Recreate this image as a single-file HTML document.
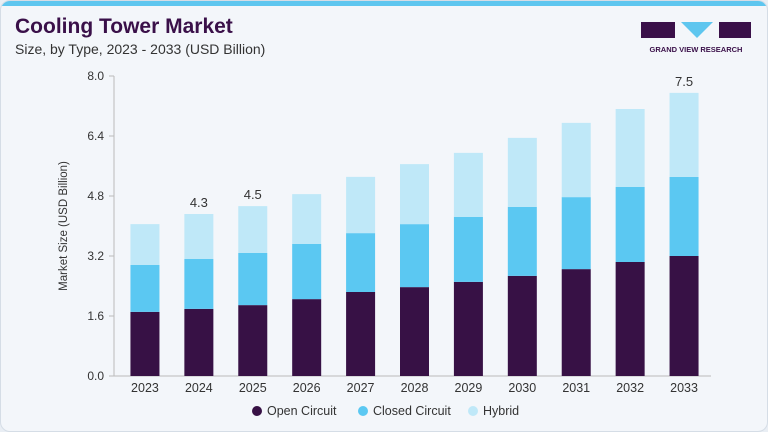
<!DOCTYPE html>
<html><head><meta charset="utf-8">
<style>
body{margin:0;width:768px;height:432px;overflow:hidden;background:#e9eef4;font-family:"Liberation Sans",sans-serif}
#card{position:absolute;left:0;top:0;width:766px;height:430px;border:1px solid #d5dde6;border-radius:10px;background:#f3f6fa;overflow:hidden}
#topbar{position:absolute;left:0;top:0;width:768px;height:5px;background:#5ec6ef}
h1{position:absolute;left:14px;top:14px;margin:0;font-size:21px;font-weight:bold;color:#3a1049}
#sub{position:absolute;left:14px;top:40px;font-size:14px;color:#333}
</style></head><body>
<div id="card">
<div id="topbar"></div>
<h1>Cooling Tower Market</h1>
<div id="sub">Size, by Type, 2023 - 2033 (USD Billion)</div>
<svg style="position:absolute;left:638px;top:20px" width="114" height="36">
<rect x="2" y="1" width="34" height="16" fill="#3a1049"/>
<polygon points="42,1 74,1 58,17" fill="#5ec6ef"/>
<rect x="80" y="1" width="32" height="16" fill="#3a1049"/>
<text x="57" y="31" text-anchor="middle" font-size="7.5" font-weight="bold" fill="#3a1049" font-family="Liberation Sans">GRAND VIEW RESEARCH</text>
</svg>
<svg id="chart" width="768" height="432" style="position:absolute;left:0;top:0"></svg>
</div>
<script>
const years=["2023","2024","2025","2026","2027","2028","2029","2030","2031","2032","2033"];
const openCircuit=[1.71,1.79,1.89,2.05,2.24,2.37,2.51,2.67,2.85,3.04,3.2];
const closedCircuit=[1.25,1.33,1.39,1.47,1.57,1.68,1.73,1.84,1.92,2.0,2.11];
const hybrid=[1.09,1.2,1.25,1.33,1.5,1.6,1.71,1.84,1.98,2.08,2.24];
const yTicks=[0,1.6,3.2,4.8,6.4,8.0];
const labelYears=["2024","2025","2033"];
const labelText=["4.3","4.5","7.5"];
const NS="http://www.w3.org/2000/svg";
const svg=document.getElementById('chart');
const x0=117,x1=710,yB=375,yT=75,yMax=8;
const y=v=>yB-(v/yMax)*(yB-yT);
const step=(x1-x0)/years.length;
const xc=i=>x0+step*(i+0.5);
const bw=29;
function el(t,a){const e=document.createElementNS(NS,t);for(const k in a)e.setAttribute(k,a[k]);svg.appendChild(e);return e;}
const ax=el('line',{x1:113,y1:yT,x2:113,y2:yB,stroke:'#bbb'});


const bx=el('line',{x1:113,y1:yB,x2:x1,y2:yB,stroke:'#bbb'});


yTicks.forEach(v=>{
 el('line',{x1:108,y1:y(v),x2:113,y2:y(v),stroke:'#bbb'});
 const t=el('text',{x:103,y:y(v)+4,'text-anchor':'end','font-size':12,fill:'#333'});
 t.textContent=v.toFixed(1);
 
 
});
const yt=el('text',{transform:'translate(66,225) rotate(-90)','text-anchor':'middle','font-size':11.5,fill:'#333'});
yt.textContent='Market Size (USD Billion)';


const cols=['#371145','#5bc8f2','#bfe8f8'];
years.forEach((yr,i)=>{
 let base=0;
 [openCircuit,closedCircuit,hybrid].forEach((s,k)=>{
  const r=el('rect',{x:xc(i)-bw/2,y:y(base+s[i]),width:bw,height:y(base)-y(base+s[i]),fill:cols[k]});
  
  
  base+=s[i];
 });
 const li=labelYears.indexOf(yr);
 if(li>=0){
  const t=el('text',{x:xc(i),y:y(base)-7,'text-anchor':'middle','font-size':13,fill:'#333'});
  t.textContent=labelText[li];
  
  
 }
 const t=el('text',{x:xc(i),y:yB+16,'text-anchor':'middle','font-size':12.5,fill:'#333'});
 t.textContent=yr;
 
 
});
const leg=[['Open Circuit',256],['Closed Circuit',362],['Hybrid',472]];
leg.forEach((l,k)=>{
 const c=el('circle',{cx:l[1],cy:410,r:5,fill:cols[k]});
 
 
 const t=el('text',{x:l[1]+10,y:414,'font-size':12.5,fill:'#333'});
 t.textContent=l[0];
 
 
});
</script>
</body></html>
